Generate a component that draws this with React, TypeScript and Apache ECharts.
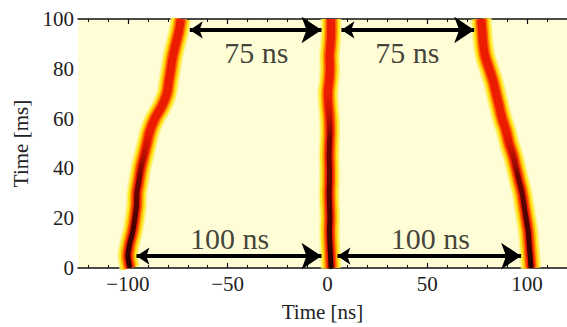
import React, { useEffect, useRef } from "react";
import * as echarts from "echarts";

// Time along the trace (ms)
const timeMs = [0, 5, 10, 15, 20, 25, 30, 35, 40, 45, 50, 55, 60, 65, 70, 75, 80, 85, 90, 95, 100];
// Trace centre positions (ns)
const leftTrace = [-99, -100, -99, -97.5, -96.5, -95.7, -95.5, -94.5, -93.5, -92, -90.5, -89, -86.5, -83, -80.5, -79.5, -78.5, -77.5, -76, -74.5, -73.5];
const middleTrace = [1.8, 1.5, 1.2, 1.0, 1.2, 1.0, 0.8, 1.0, 1.0, 0.8, 1.0, 1.2, 1.0, 0.5, 0.2, 0.8, 1.2, 1.0, 1.5, 1.8, 1.8];
const rightTrace = [102, 101.5, 101, 100.5, 99.5, 98.5, 97.5, 96, 94.5, 93, 91, 89.5, 87.5, 86, 84.5, 83, 81, 79, 78, 77.5, 77];

// Axis ticks
const xMajorTicks = [-100, -50, 0, 50, 100];
const xMinorTicks = [-120, -110, -90, -80, -70, -60, -40, -30, -20, -10, 10, 20, 30, 40, 60, 70, 80, 90, 110, 120];

// Annotation arrows: [x1, x2, y]
const arrows = [
  [-69, -3, 95.6],
  [7, 73.5, 95.6],
  [-95.7, -3, 4.8],
  [5, 97, 4.8],
];
// Annotation labels: [x, y, text]
const labels: [number, number, string][] = [
  [-35.6, 86.7, "75 ns"],
  [40, 86.7, "75 ns"],
  [-49, 12, "100 ns"],
  [51.5, 12, "100 ns"],
];

const FONT = "'Liberation Serif', 'Times New Roman', serif";

const layers = [
  { w: 21, c: "rgba(255,240,130,0.75)" },
  { w: 18, c: "#FFE92A" },
  { w: 14, c: "#FFB300" },
  { w: 11, c: "#FF5E00" },
  { w: 8, c: "#EC1C00" },
];

function traceSeries(name: string, xs: number[], darkTop: number) {
  const data = timeMs.map((t, i) => [xs[i], t]);
  const out: any[] = layers.map((l, k) => ({
    type: "line",
    name: name + "-" + k,
    data,
    showSymbol: false,
    symbol: "none",
    smooth: 0.35,
    lineStyle: { width: l.w, color: l.c, cap: "butt", join: "round" },
    z: 2 + k,
    silent: true,
  }));
  out.push({
    type: "line",
    name: name + "-core",
    data,
    showSymbol: false,
    symbol: "none",
    smooth: 0.35,
    lineStyle: {
      width: 5,
      join: "round",
      color: {
        type: "linear",
        x: 0,
        y: 0,
        x2: 0,
        y2: 1,
        colorStops: [
          { offset: 0, color: "rgba(150,0,0,0)" },
          { offset: darkTop, color: "rgba(150,0,0,0)" },
          { offset: darkTop + 0.18, color: "rgba(90,0,0,0.85)" },
          { offset: 1, color: "rgba(40,0,0,1)" },
        ],
      },
    },
    z: 8,
    silent: true,
  });
  return out;
}

export default function App() {
  const ref = useRef<HTMLDivElement>(null);
  useEffect(() => {
    if (!ref.current) return;
    const chart = echarts.init(ref.current, null, { renderer: "svg" });
    const axisLine = { show: true, lineStyle: { color: "#111", width: 1.5 } };
    const commonX = {
      type: "value",
      min: -125,
      max: 120,
      splitLine: { show: false },
    };
    chart.setOption({
      animation: false,
      backgroundColor: "#ffffff",
      textStyle: { fontFamily: FONT },
      grid: {
        left: 78,
        right: 0,
        top: 19,
        bottom: 59,
        show: true,
        backgroundColor: "#FFFDD6",
        borderWidth: 0,
        containLabel: false,
        outerBoundsMode: "none",
      },
      xAxis: [
        {
          ...commonX,
          position: "bottom",
          axisLine,
          axisTick: {
            show: true,
            inside: true,
            length: 5,
            customValues: xMajorTicks,
            lineStyle: { color: "#111", width: 1.2 },
          },
          axisLabel: {
            customValues: xMajorTicks,
            fontFamily: FONT,
            fontSize: 21,
            color: "#222",
            margin: 5,
            formatter: (v: number) => (v < 0 ? "\u2212" + Math.abs(v) : String(v)),
          },
          name: "Time [ns]",
          nameLocation: "middle",
          nameGap: 33,
          nameTextStyle: { fontFamily: FONT, fontSize: 21, color: "#222" },
        },
        {
          ...commonX,
          position: "bottom",
          axisLine: { show: false },
          axisTick: {
            show: true,
            inside: true,
            length: 3,
            customValues: xMinorTicks,
            lineStyle: { color: "#111", width: 1 },
          },
          axisLabel: { show: false },
        },
        {
          ...commonX,
          position: "top",
          axisLine,
          axisTick: {
            show: true,
            inside: true,
            length: 5,
            customValues: xMajorTicks,
            lineStyle: { color: "#111", width: 1.2 },
          },
          axisLabel: { show: false },
        },
        {
          ...commonX,
          position: "top",
          axisLine: { show: false },
          axisTick: {
            show: true,
            inside: true,
            length: 3,
            customValues: xMinorTicks,
            lineStyle: { color: "#111", width: 1 },
          },
          axisLabel: { show: false },
        },
      ],
      yAxis: {
        type: "value",
        min: 0,
        max: 100,
        interval: 20,
        position: "left",
        axisLine,
        splitLine: { show: false },
        axisTick: { show: true, inside: true, length: 5, lineStyle: { color: "#111", width: 1.2 } },
        minorTick: { show: true, splitNumber: 4, length: 3, lineStyle: { color: "#111", width: 1 } },
        axisLabel: { fontFamily: FONT, fontSize: 21, color: "#222", margin: 4 },
        name: "Time [ms]",
        nameLocation: "middle",
        nameGap: 37,
        nameTextStyle: { fontFamily: FONT, fontSize: 21, color: "#222" },
      },
      series: [
        ...traceSeries("left", leftTrace, 0.45),
        ...traceSeries("middle", middleTrace, 0.3),
        ...traceSeries("right", rightTrace, 0.45),
        {
          type: "lines",
          coordinateSystem: "cartesian2d",
          xAxisIndex: 0,
          yAxisIndex: 0,
          symbol: ["arrow", "arrow"],
          symbolSize: [13, 20],
          lineStyle: { color: "#000", width: 4, opacity: 1, curveness: 0 },
          data: arrows.map((a) => ({ coords: [[a[0], a[2]], [a[1], a[2]]] })),
          z: 20,
          silent: true,
        },
        {
          type: "scatter",
          symbolSize: 0,
          data: labels.map((l) => ({ value: [l[0], l[1]], name: l[2] })),
          label: {
            show: true,
            position: "inside",
            formatter: (p: any) => p.name,
            fontFamily: FONT,
            fontSize: 30,
            color: "#111",
          },
          z: 21,
          silent: true,
        },
      ],
    });
    return () => chart.dispose();
  }, []);
  return (
    <div
      ref={ref}
      style={{ position: "absolute", left: 0, top: 0, width: 567, height: 327 }}
    />
  );
}
